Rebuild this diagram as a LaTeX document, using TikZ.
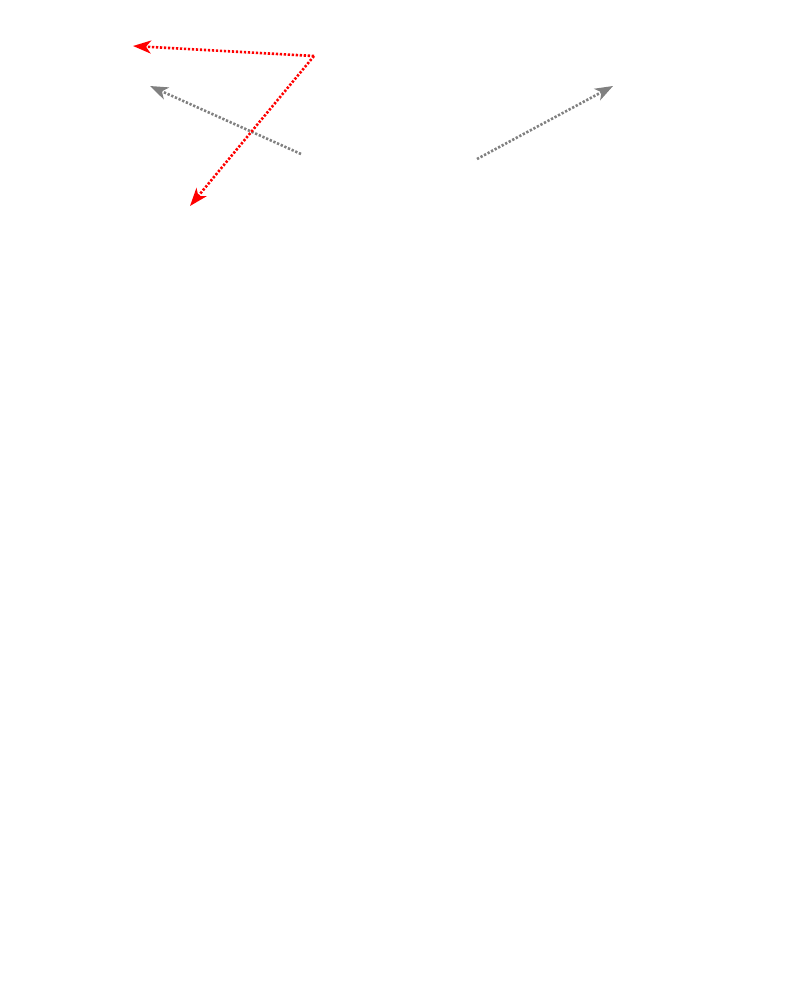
\documentclass[tikz,border=0pt]{standalone}
\usetikzlibrary{arrows.meta}
\begin{document}
\begin{tikzpicture}[x=1bp,y=-1bp,
  dotarrow/.style={line width=2.6bp,dash pattern=on 2.3bp off 1.7bp,-{Stealth[length=18bp,width=13bp,inset=5bp]}},
  redarrow/.style={dotarrow,draw={rgb,255:red,255;green,0;blue,0}},
  grayarrow/.style={dotarrow,draw={rgb,255:red,128;green,128;blue,128}}]
\useasboundingbox (0,0) rectangle (803,1005);
\coordinate (rc) at (314,56);
\coordinate (rt1) at (133,46);
\coordinate (rt2) at (190,206);
\coordinate (g1s) at (301,154);
\coordinate (g1t) at (150,86);
\coordinate (g2s) at (477,159);
\coordinate (g2t) at (613,86);
\draw[grayarrow] (g1s) -- (g1t);
\draw[grayarrow] (g2s) -- (g2t);
\draw[redarrow] (rc) -- (rt1);
\draw[redarrow] (rc) -- (rt2);
\end{tikzpicture}
\end{document}
